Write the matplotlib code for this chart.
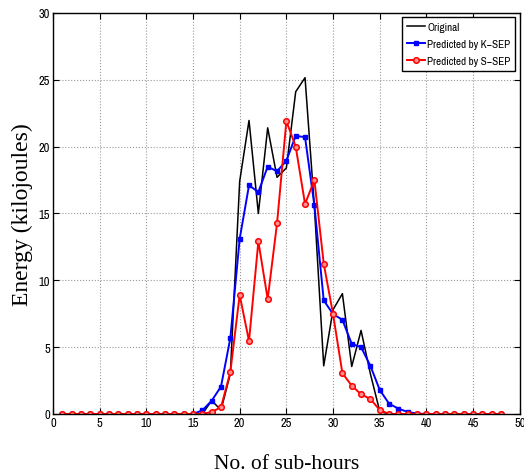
import numpy as np
import matplotlib
matplotlib.use('Agg')
import matplotlib.pyplot as plt
from matplotlib import font_manager

hours = np.arange(1, 49)

original = [0] * 15 + [0, 1.0, 0.3, 3.0, 17.4, 21.95, 15.0, 21.4, 17.7, 18.4,
                       24.1, 25.15, 15.5, 3.6, 7.8, 9.0, 3.55, 6.25, 3.0, 0.2] + [0] * 13
k_sep = [0] * 15 + [0.27, 0.99, 2.05, 5.67, 13.1, 17.1, 16.6, 18.5, 18.15, 18.95,
                    20.8, 20.7, 15.6, 8.5, 7.47, 7.04, 5.24, 5.0, 3.6, 1.8,
                    0.77, 0.4, 0.15, 0.03] + [0] * 9
s_sep = [0] * 15 + [0, 0.15, 0.5, 3.15, 8.9, 5.45, 12.9, 8.6, 14.25, 21.9,
                    20.0, 15.7, 17.5, 11.25, 7.47, 3.05, 2.12, 1.47, 1.12, 0.3] + [0] * 13

# narrow sans for ticks/legend (matlab-ish look)
names = set(f.name for f in font_manager.fontManager.ttflist)
narrow = None
for cand in ['Liberation Sans Narrow', 'Arial Narrow', 'Archivo Narrow', 'PT Sans Narrow', 'Roboto Condensed']:
    if cand in names:
        narrow = font_manager.FontProperties(family=cand)
        break
if narrow is None:
    narrow = font_manager.FontProperties(family='DejaVu Sans', stretch='condensed')

fig = plt.figure(figsize=(5.24, 4.77), dpi=100)
ax = fig.add_axes([0.101, 0.130, 0.891, 0.841])

ax.plot(hours, original, '-', color='black', lw=1.1, label='Original')
ax.plot(hours, k_sep, '-s', color='blue', lw=1.4, ms=3.5, label='Predicted by K\u2212SEP')
ax.plot(hours, s_sep, '-o', color='red', lw=1.4, ms=4, mfc='#ff9090', mew=1.1,
        label='Predicted by S\u2212SEP')

ax.set_xlim(0, 50)
ax.set_ylim(0, 30)
ax.set_xticks(np.arange(0, 51, 5))
ax.set_yticks(np.arange(0, 31, 5))
ax.grid(True, ls=':', color='#999999', lw=0.8)
ax.tick_params(direction='in', top=True, right=True, length=4, pad=2)
for lab in ax.get_xticklabels() + ax.get_yticklabels():
    lab.set_fontproperties(narrow)
    lab.set_fontsize(9)
for s in ax.spines.values():
    s.set_linewidth(1.0)

ax.set_xlabel('No. of sub-hours', family='Liberation Serif', fontsize=15.5, labelpad=19)
ax.set_ylabel('Energy (kilojoules)', family='Liberation Serif', fontsize=17, labelpad=4)

prop = narrow.copy()
prop.set_size(8)
leg = ax.legend(loc='upper right', prop=prop,
                fancybox=False, framealpha=1, edgecolor='black',
                handlelength=1.6, borderpad=0.45, labelspacing=0.6, handletextpad=0.2,
                borderaxespad=0.4)
leg.get_frame().set_linewidth(1.0)

fig.savefig('out.png', dpi=100)
